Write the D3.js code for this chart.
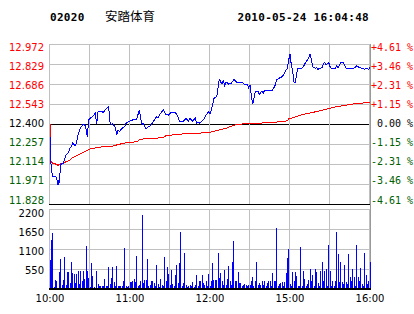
<html>
<head>
<script src="https://cdn.jsdelivr.net/npm/d3@7"></script>
<style>
body { margin: 0; background: #fff; }
text { font-family: "DejaVu Sans", sans-serif; font-size: 10px; }
line, path, rect { shape-rendering: crispEdges; }
</style>
</head>
<body>
<svg id="chart" width="414" height="314"></svg>
<script>
// stock header
var code = "02020", name = "安踏体育", stamp = "2010-05-24 16:04:48";
var prevClose = 12.400;

// price axis ticks (left) and percent ticks (right)
var priceTicks = [12.972, 12.829, 12.686, 12.543, 12.400, 12.257, 12.114, 11.971, 11.828];
var pctTicks = ["+4.61 %", "+3.46 %", "+2.31 %", "+1.15 %", " 0.00 %", "-1.15 %", "-2.31 %", "-3.46 %", "-4.61 %"];
var volTicks = [550, 1100, 1650, 2200];
var timeTicks = [0, 60, 120, 180, 240];
var timeLabels = ["10:00", "11:00", "12:00", "15:00", "16:00"];

// price line: trading minute since 10:00, price
var priceMin = [0, 0, 1, 2, 4, 5, 6, 6, 7, 8, 9, 10, 11, 12, 14, 15, 16, 17, 19, 20, 21, 22, 23, 25, 26, 27, 28, 29, 30, 32, 34, 35, 36, 37, 40, 42, 44, 45, 46, 47, 49, 50, 51, 52, 54, 56, 57, 60, 62, 65, 67, 68, 69, 70, 72, 74, 76, 77, 80, 81, 82, 85, 87, 89, 91, 94, 96, 97, 100, 102, 104, 105, 107, 109, 110, 111, 112, 114, 116, 117, 119, 120, 122, 123, 125, 126, 127, 129, 130, 131, 132, 134, 136, 138, 140, 144, 146, 148, 149, 150, 151, 152, 153, 154, 156, 157, 159, 160, 161, 167, 169, 170, 174, 175, 177, 178, 179, 180, 181, 182, 183, 184, 185, 186, 189, 190, 191, 192, 194, 195, 196, 197, 199, 200, 201, 202, 204, 205, 206, 207, 209, 210, 211, 214, 215, 216, 218, 220, 221, 222, 227, 229, 230, 232, 234, 236, 237, 239, 240];
var priceVal = [12.309, 12.250, 12.071, 12.023, 12.023, 12.016, 11.964, 12.000, 11.988, 12.107, 12.119, 12.119, 12.150, 12.178, 12.198, 12.226, 12.238, 12.262, 12.245, 12.269, 12.321, 12.350, 12.374, 12.398, 12.398, 12.364, 12.309, 12.429, 12.441, 12.452, 12.477, 12.398, 12.488, 12.493, 12.484, 12.507, 12.524, 12.412, 12.398, 12.405, 12.374, 12.321, 12.357, 12.345, 12.369, 12.381, 12.405, 12.421, 12.429, 12.436, 12.500, 12.441, 12.398, 12.405, 12.364, 12.381, 12.393, 12.412, 12.452, 12.441, 12.464, 12.500, 12.469, 12.464, 12.484, 12.484, 12.452, 12.421, 12.421, 12.441, 12.421, 12.441, 12.421, 12.441, 12.405, 12.416, 12.405, 12.421, 12.441, 12.464, 12.488, 12.469, 12.536, 12.584, 12.595, 12.655, 12.720, 12.684, 12.715, 12.667, 12.702, 12.684, 12.691, 12.720, 12.698, 12.698, 12.684, 12.684, 12.660, 12.679, 12.607, 12.541, 12.584, 12.631, 12.636, 12.612, 12.636, 12.620, 12.643, 12.643, 12.679, 12.718, 12.738, 12.750, 12.786, 12.798, 12.858, 12.898, 12.822, 12.774, 12.698, 12.698, 12.762, 12.798, 12.798, 12.810, 12.827, 12.845, 12.870, 12.898, 12.865, 12.810, 12.798, 12.803, 12.791, 12.798, 12.803, 12.827, 12.841, 12.822, 12.841, 12.810, 12.798, 12.798, 12.817, 12.803, 12.841, 12.841, 12.817, 12.798, 12.798, 12.803, 12.817, 12.803, 12.798, 12.791, 12.798, 12.791, 12.803];

// average price line
var avgMin = [0, 0, 2, 5, 6, 7, 10, 12, 15, 17, 20, 22, 25, 27, 30, 32, 35, 40, 45, 50, 55, 60, 65, 67, 70, 80, 85, 87, 95, 107, 119, 122, 127, 132, 137, 140, 155, 162, 165, 170, 177, 178, 179, 190, 202, 215, 227, 240];
var avgVal = [12.400, 12.143, 12.119, 12.112, 12.102, 12.112, 12.119, 12.130, 12.143, 12.159, 12.173, 12.183, 12.198, 12.207, 12.221, 12.226, 12.231, 12.238, 12.238, 12.250, 12.262, 12.269, 12.273, 12.286, 12.293, 12.298, 12.305, 12.316, 12.326, 12.333, 12.338, 12.345, 12.357, 12.369, 12.388, 12.398, 12.405, 12.409, 12.412, 12.414, 12.421, 12.424, 12.436, 12.469, 12.493, 12.524, 12.543, 12.555];

// volume per minute (0..240)
var volume = [800, 1350, 1530, 60, 250, 230, 40, 480, 825, 120, 250, 890, 100, 480, 480, 160, 730, 430, 410, 160,
  410, 500, 140, 490, 230, 490, 275, 1190, 490, 300, 50, 715, 370, 50, 30, 490, 140, 90, 90, 90,
  90, 275, 70, 70, 615, 140, 300, 615, 180, 90, 640, 70, 70, 70, 90, 230, 1130, 90, 50, 90,
  180, 180, 230, 275, 180, 915, 73, 120, 210, 2025, 165, 255, 255, 825, 73, 120, 210, 210, 165, 73,
  650, 137, 46, 285, 120, 73, 870, 210, 595, 410, 120, 530, 137, 73, 395, 650, 165, 715, 1560, 73,
  165, 990, 120, 46, 73, 120, 73, 190, 46, 120, 390, 73, 230, 210, 375, 165, 120, 210, 73, 410,
  73, 210, 715, 255, 255, 255, 990, 300, 440, 210, 120, 530, 120, 285, 620, 210, 120, 740, 1310, 210,
  210, 465, 165, 165, 73, 120, 137, 120, 73, 120, 120, 210, 320, 73, 210, 740, 120, 165, 120, 210,
  120, 210, 73, 165, 210, 210, 73, 440, 210, 230, 1690, 73, 137, 156, 183, 92, 183, 430, 850, 1100,
  137, 92, 458, 230, 458, 367, 92, 92, 1165, 92, 504, 275, 92, 137, 257, 550, 230, 394, 92, 550,
  458, 156, 92, 504, 750, 230, 504, 550, 92, 1220, 504, 92, 230, 92, 230, 1580, 960, 183, 750, 183,
  137, 670, 183, 137, 960, 320, 230, 550, 320, 92, 1220, 320, 230, 568, 137, 92, 990, 394, 137, 230,
  750];

var svg = d3.select("#chart");
var red = "#ff0000", green = "#006000", grid = "#c0c0c0";

var x = d3.scaleLinear().domain([0, 240]).range([50, 370]);
var y = d3.scaleLinear().domain([11.828, 12.972]).range([204, 44]);
var vy = d3.scaleLinear().domain([0, 2200]).range([289, 209]);
// labels sit a little inside the panels
var yLab = d3.scaleLinear().domain([11.828, 12.972]).range([200, 47]);
var vyLab = d3.scaleLinear().domain([550, 2200]).range([270, 213]);

function px(v) { return Math.round(v) - 0.5; }

// header
svg.append("text").attr("x", 50).attr("y", 21).text(code)
    .style("font-family", "DejaVu Sans Mono").style("font-weight", "bold").style("font-size", "11px").style("letter-spacing", "0.3px");
svg.append("text").attr("x", 105).attr("y", 21).text(name)
    .style("font-family", "Noto Sans CJK SC").style("font-size", "12.5px");
svg.append("text").attr("x", 369).attr("y", 21).attr("text-anchor", "end").text(stamp)
    .style("font-family", "DejaVu Sans Mono").style("font-weight", "bold").style("font-size", "11px").style("letter-spacing", "0.3px");

// price panel grid
var gp = svg.append("g");
gp.selectAll("line.h").data(priceTicks).enter().append("line")
    .attr("x1", 49).attr("x2", 371)
    .attr("y1", function(d) { return px(y(d)) + 1; })
    .attr("y2", function(d) { return px(y(d)) + 1; })
    .attr("stroke", function(d, i) { return (d === prevClose || i === priceTicks.length - 1) ? "#000" : grid; });
gp.selectAll("line.v").data(d3.range(0, 241, 30)).enter().append("line")
    .attr("x1", function(d) { return px(x(d)); })
    .attr("x2", function(d) { return px(x(d)); })
    .attr("y1", 44).attr("y2", 204)
    .attr("stroke", grid);
gp.append("line").attr("x1", 370.5).attr("x2", 370.5).attr("y1", 44).attr("y2", 209).attr("stroke", "#999");

// price labels
svg.selectAll("text.pl").data(priceTicks).enter().append("text")
    .attr("x", 44).attr("y", function(d) { return yLab(d) + 3.6; })
    .attr("text-anchor", "end")
    .attr("fill", function(d) { return d > prevClose ? red : d < prevClose ? green : "#000"; })
    .text(function(d) { return d.toFixed(3); });
svg.selectAll("text.pr").data(pctTicks).enter().append("text")
    .attr("x", 371).attr("y", function(d, i) { return yLab(priceTicks[i]) + 3.6; })
    .attr("fill", function(d, i) { return priceTicks[i] > prevClose ? red : priceTicks[i] < prevClose ? green : "#000"; })
    .style("font-family", "DejaVu Sans Mono").style("white-space", "pre")
    .text(function(d) { return d; });

// average and price lines
var avgLine = d3.line().x(function(d, i) { return x(avgMin[i]); }).y(function(d) { return y(d); });
var priceLine = d3.line().x(function(d, i) { return x(priceMin[i]); }).y(function(d) { return y(d); });
svg.append("path").datum(avgVal).attr("d", avgLine).attr("fill", "none").attr("stroke", red).attr("stroke-width", 1);
svg.append("path").datum(priceVal).attr("d", priceLine).attr("fill", "none").attr("stroke", "#0000ff").attr("stroke-width", 1);

// volume panel
var gv = svg.append("g");
gv.selectAll("line.h").data([2200, 1650, 1100, 550]).enter().append("line")
    .attr("x1", 49).attr("x2", 371)
    .attr("y1", function(d) { return px(vy(d)) + 1; })
    .attr("y2", function(d) { return px(vy(d)) + 1; })
    .attr("stroke", grid);
gv.selectAll("line.v").data(d3.range(0, 241, 30)).enter().append("line")
    .attr("x1", function(d) { return px(x(d)); })
    .attr("x2", function(d) { return px(x(d)); })
    .attr("y1", 209).attr("y2", 289)
    .attr("stroke", grid);
gv.append("line").attr("x1", 370.5).attr("x2", 370.5).attr("y1", 209).attr("y2", 289).attr("stroke", "#999");

gv.selectAll("rect").data(volume).enter().append("rect")
    .attr("x", function(d, i) { return Math.floor(x(i)); })
    .attr("width", 1)
    .attr("y", function(d) { return Math.round(vy(d)); })
    .attr("height", function(d) { return 289 - Math.round(vy(d)); })
    .attr("fill", "#0000ff");
gv.append("line").attr("x1", 49).attr("x2", 371).attr("y1", 288.5).attr("y2", 288.5)
    .attr("stroke", "#000").attr("stroke-width", 2);

svg.selectAll("text.vl").data(volTicks).enter().append("text")
    .attr("x", 44).attr("y", function(d) { return vyLab(d) + 3.6; })
    .attr("text-anchor", "end")
    .text(function(d) { return d; });

svg.selectAll("text.tl").data(timeTicks).enter().append("text")
    .attr("x", function(d) { return x(d); }).attr("y", 302)
    .attr("text-anchor", "middle")
    .text(function(d, i) { return timeLabels[i]; });
</script>
</body>
</html>
